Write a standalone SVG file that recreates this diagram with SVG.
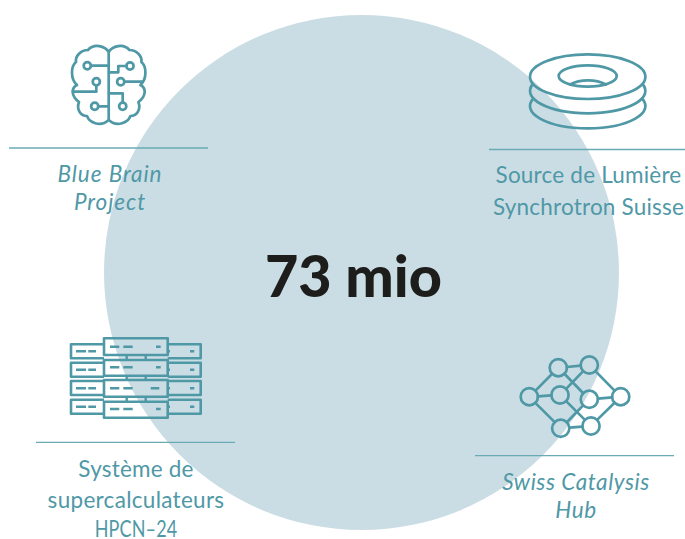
<svg xmlns="http://www.w3.org/2000/svg" width="685" height="539" viewBox="0 0 685 539">
<style>
.i{fill:none;stroke:#4f98a6;stroke-width:2.7;stroke-linecap:round;stroke-linejoin:round}
.s{fill:none;stroke:#4f98a6;stroke-width:2.6;stroke-linejoin:round}
.d{fill:none;stroke:#4f98a6;stroke-width:2.4}
.r{stroke:#6aaab4;stroke-width:1.3}
.t{font-family:"Lato","Noto Sans",sans-serif;font-size:22.5px;fill:#4f98a6;text-anchor:middle;letter-spacing:.2px}
.it{font-style:italic;letter-spacing:.7px}
</style>
<rect width="685" height="539" fill="#fff"/>
<circle id="disc" cx="361.5" cy="272.5" r="257.5" fill="#cbdde4"/>
<text id="total" x="353.5" y="297" font-family="Lato,Noto Sans,sans-serif" font-weight="900" font-size="57.5" fill="#1d1d1b" text-anchor="middle">73 mio</text>

<g id="blue-brain">
<path class="i" d="M108.7 52C105 46 94 43 88 50C81 50 75 56 76 62C71 66 70 79 77 85C71 88 71 96 79 102C76 110 81 116 87 116C89 122 100 128 108.7 120V52C112.4 46 123.4 43 129.4 50C136.4 50 142.4 56 141.4 62C146.4 66 147.4 79 140.4 85C146.4 88 146.4 96 138.4 102C141.4 110 136.4 116 130.4 116C128.4 122 117.4 128 108.7 120"/>
<circle class="i" cx="87.3" cy="65.7" r="3.6"/><path class="i" d="M91 65.7H108"/>
<circle class="i" cx="130" cy="66" r="3.6"/><path class="i" d="M126.4 66H118.3V72.3H109"/>
<circle class="i" cx="96.3" cy="81.7" r="3.6"/><path class="i" d="M96.3 85.3V91.7H73"/>
<circle class="i" cx="120.7" cy="81.7" r="3.6"/><path class="i" d="M124.3 81.7H142.5"/>
<circle class="i" cx="94.7" cy="106.3" r="3.6"/><path class="i" d="M98.3 106.3H108"/>
<circle class="i" cx="122.7" cy="106.3" r="3.6"/><path class="i" d="M122.7 102.7V93.3H109"/>
<line class="r" x1="9" y1="148" x2="208" y2="148"/>
<text class="t it" style="letter-spacing:.95px"><tspan x="110" y="182">Blue Brain</tspan><tspan x="110" y="210">Project</tspan></text>
</g>

<g id="sls">
<ellipse class="i" cx="587.7" cy="76.7" rx="57.7" ry="22.3"/>
<ellipse class="i" cx="587.7" cy="76" rx="29" ry="10.7"/>
<path class="i" d="M570 84.5C580 79 596 79 606 84.5"/>
<path class="i" d="M532.9 84A57.7 22.3 0 1 0 642.5 84"/>
<path class="i" d="M533.4 98.5A57.7 22.3 0 1 0 642 98.5"/>
<line class="r" x1="489" y1="149.5" x2="685" y2="149.5"/>
<text class="t"><tspan x="588.5" y="183">Source de Lumière</tspan><tspan x="588.5" y="215">Synchrotron Suisse</tspan></text>
</g>

<g id="hpcn">
<path class="s" d="M104 344.3H71V358.3H104M167.7 344.3H200.7V358.3H167.7"/>
<path class="s" d="M104 362.7H71V376.7H104M167.7 362.7H200.7V376.7H167.7"/>
<path class="s" d="M104 381H71V395H104M167.7 381H200.7V395H167.7"/>
<path class="s" d="M104 399.7H71V413.7H104M167.7 399.7H200.7V413.7H167.7"/>
<rect class="s" x="104" y="338.3" width="63.7" height="16.7"/>
<rect class="s" x="104" y="360" width="63.7" height="15.7"/>
<rect class="s" x="104" y="380" width="63.7" height="16.7"/>
<rect class="s" x="104" y="401.7" width="63.7" height="16"/>
<path class="d" d="M126.7 355V360M145.7 355V360M126.7 375.7V380M145.7 375.7V380M126.7 396.7V401.7M145.7 396.7V401.7"/>
<path class="d" d="M76 351.3H86M88.3 351.3H96M190 351.3H194.3M168 351.3H170M76 369.7H86M88.3 369.7H96M190 369.7H194.3M168 369.7H170M76 388.3H86M88.3 388.3H96M190 388.3H194.3M168 388.3H170M76 406.7H86M88.3 406.7H96M190 406.7H194.3M168 406.7H170"/>
<path class="d" d="M110 346.7H119.3M123.3 346.7H132.7M156 346.7H160.7M110 367.3H119.3M123.3 367.3H132.7M156 367.3H160.7M110 388.3H119.3M123.3 388.3H132.7M150.7 388.3H159.3M110 409H119.3M123.3 409H132.7M156 409H160.7"/>
<line class="r" x1="36" y1="442.3" x2="235" y2="442.3"/>
<text class="t"><tspan x="136" y="477">Système de</tspan><tspan x="136" y="508" style="letter-spacing:.3px">supercalculateurs</tspan></text>
<text class="t" transform="translate(136 537) scale(.8 1)">HPCN–24</text>
</g>

<g id="catalysis">
<circle class="i" cx="529.3" cy="396.7" r="8.6"/><circle class="i" cx="558.3" cy="367.7" r="8.6"/>
<circle class="i" cx="589.3" cy="365" r="8.6"/><circle class="i" cx="560" cy="395" r="8.6"/>
<circle class="i" cx="589.3" cy="399.3" r="8.6"/><circle class="i" cx="620.7" cy="396.7" r="8.6"/>
<circle class="i" cx="560.7" cy="428.3" r="8.6"/><circle class="i" cx="591" cy="426" r="8.6"/>
<path class="i" d="M535.5 390.6L552.2 373.8M537.9 396.3L551.4 395.4M535.3 402.9L554.7 422.1M566.9 367L580.7 365.7M564.4 373.8L583.2 393.2M583.2 371.1L566.1 388.9M595.4 371.1L614.6 390.6M566.1 401.1L584.9 419.9M597.9 398.6L612.1 397.4M583.2 405.4L566.8 422.2M614.6 402.8L597.1 419.9M569.3 427.6L582.4 426.7"/>
<line class="r" x1="475" y1="455.7" x2="674" y2="455.7"/>
<text class="t it" style="letter-spacing:.55px"><tspan x="576" y="490">Swiss Catalysis</tspan><tspan x="576" y="518">Hub</tspan></text>
</g>
</svg>
